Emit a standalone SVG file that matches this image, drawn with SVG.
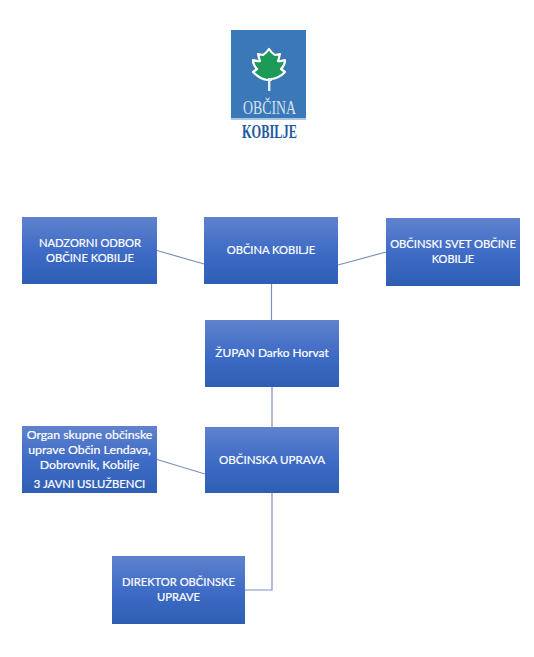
<svg xmlns="http://www.w3.org/2000/svg" width="534" height="657" viewBox="0 0 534 657">
<defs>
<linearGradient id="g" x1="0" y1="0" x2="0" y2="1"><stop offset="0" stop-color="#5f82cd"/><stop offset="0.5" stop-color="#3f6cc6"/><stop offset="1" stop-color="#2e5eb4"/></linearGradient>
</defs>
<style>
.box{fill:url(#g)}
.t{font-family:"Lato","Liberation Sans",sans-serif;font-size:11.2px;fill:#fff;stroke:#fff;stroke-width:.2;text-anchor:middle}
.c{fill:none;stroke:#7f8fbb;stroke-width:1.2}
.l{font-family:"Liberation Serif",serif;text-anchor:middle}
</style>
<rect width="534" height="657" fill="#fff"/>
<g id="logo">
<rect x="231" y="30" width="75" height="90" fill="#3a78b8"/>
<rect x="231" y="118" width="75" height="2" fill="#a9c6e2"/>
<path d="M269 49 C271 52 273 54 275 55 L280 54 C279 57 279 59 278 61 C280 62 283 60 285 60 C285 64 283 67 281 69 L285 72 C281 76 277 79 271 79 L271 80 L267 80 C261 79 257 76 253 72 L257 69 C255 67 253 64 253 60 C255 60 258 62 260 61 C259 59 259 57 258 54 L263 55 C265 54 267 52 269 49 Z" fill="#1d9a58" stroke="#fff" stroke-width="2.2" stroke-linejoin="round"/>
<rect x="268" y="78" width="2.4" height="13" fill="#e8f0f6"/>
<text class="l" x="269.500" y="114" font-size="19" fill="#d5e2ee" textLength="53" lengthAdjust="spacingAndGlyphs">OBČINA</text>
<text class="l" x="269.500" y="138" font-size="19" font-weight="bold" fill="#1c5aa0" textLength="55" lengthAdjust="spacingAndGlyphs">KOBILJE</text>
</g>
<g id="connectors">
<path class="c" d="M157 250.500L204 264"/>
<path class="c" d="M338 265L386 252"/>
<path class="c" d="M271.500 284V320"/>
<path class="c" d="M272 387V427"/>
<path class="c" d="M157 459.500L205 474"/>
<path class="c" d="M272 493V590H245"/>
</g>
<g id="nadzorni"><rect class="box" x="22" y="217" width="135" height="67"/><text class="t" x="90" y="247">NADZORNI ODBOR</text><text class="t" x="90" y="262">OBČINE KOBILJE</text></g>
<g id="obcina"><rect class="box" x="204" y="217" width="134" height="67"/><text class="t" x="271" y="254">OBČINA KOBILJE</text></g>
<g id="svet"><rect class="box" x="386" y="218" width="134" height="68"/><text class="t" x="453" y="248" font-size="11.400">OBČINSKI SVET OBČINE</text><text class="t" x="453" y="263" style="font-size:11px">KOBILJE</text></g>
<g id="zupan"><rect class="box" x="205" y="320" width="134" height="67"/><text class="t" x="272" y="357" style="font-size:11.900px">ŽUPAN Darko Horvat</text></g>
<g id="uprava"><rect class="box" x="205" y="427" width="134" height="66"/><text class="t" x="272" y="464" style="font-size:11.600px">OBČINSKA UPRAVA</text></g>
<g id="organ"><rect class="box" x="22" y="426" width="135" height="67"/><text class="t" x="89.500" y="439" style="font-size:12.300px">Organ skupne občinske</text><text class="t" x="89.500" y="454" style="font-size:12.300px">uprave Občin Lendava,</text><text class="t" x="89.500" y="469" style="font-size:12.300px">Dobrovnik, Kobilje</text><text class="t" x="89.500" y="488" style="font-size:11.300px">3 JAVNI USLUŽBENCI</text></g>
<g id="direktor"><rect class="box" x="112" y="556" width="133" height="68"/><text class="t" x="178.500" y="586">DIREKTOR OBČINSKE</text><text class="t" x="178.500" y="601">UPRAVE</text></g>
</svg>
